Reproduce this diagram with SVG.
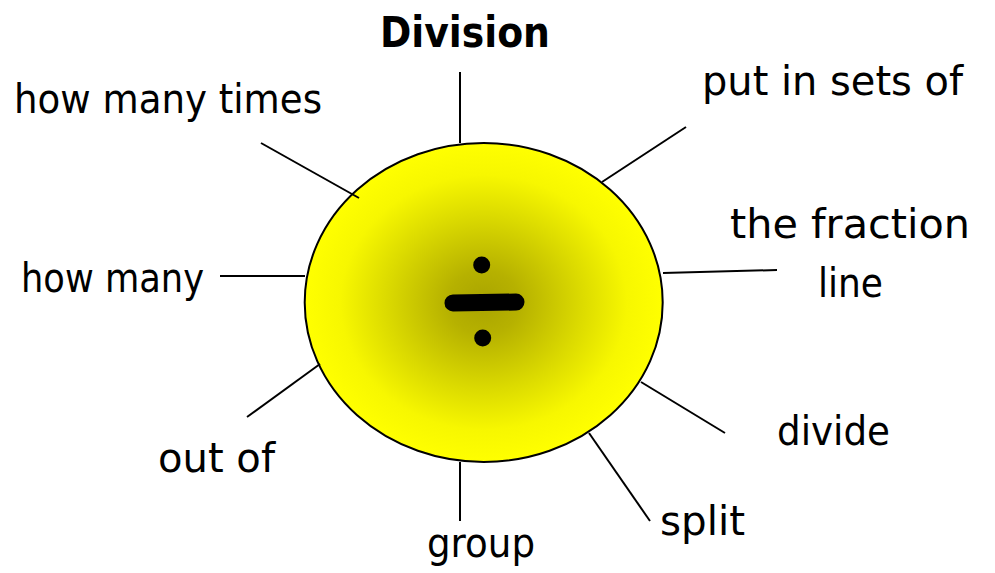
<svg xmlns="http://www.w3.org/2000/svg" width="995" height="573" viewBox="0 0 995 573">
<style>
.lbl{font-family:"DejaVu Sans","Liberation Sans",sans-serif;font-size:41px;fill:#000;}
.ttl{font-family:"DejaVu Sans","Liberation Sans",sans-serif;font-size:43px;font-weight:bold;fill:#000;}
.conn line{stroke:#000;stroke-width:2;}
</style>
<defs>
<radialGradient id="sun" cx="0.5" cy="0.5" r="0.5">
<stop offset="0" stop-color="#a9a400"/>
<stop offset="0.2" stop-color="#b6b100"/>
<stop offset="0.55" stop-color="#dcdb00"/>
<stop offset="0.8" stop-color="#f7f700"/>
<stop offset="1" stop-color="#ffff00"/>
</radialGradient>
</defs>
<rect width="995" height="573" fill="#fff"/>
<g id="center">
<ellipse cx="483.7" cy="302.5" rx="179" ry="159.5" fill="url(#sun)" stroke="#000" stroke-width="2"/>
<circle cx="481.7" cy="265" r="8.5" fill="#000"/>
<line x1="453" y1="303" x2="516" y2="302" stroke="#000" stroke-width="17" stroke-linecap="round"/>
<circle cx="482.7" cy="338" r="8.5" fill="#000"/>
</g>
<g id="connectors" class="conn">
<line x1="460" y1="72" x2="460" y2="143"/>
<line x1="261" y1="143" x2="359" y2="198"/>
<line x1="686" y1="127" x2="602" y2="182"/>
<line x1="663" y1="273" x2="777" y2="270"/>
<line x1="220" y1="276" x2="305" y2="276"/>
<line x1="247" y1="417" x2="320" y2="364"/>
<line x1="641" y1="382" x2="725" y2="433"/>
<line x1="589" y1="433" x2="650" y2="521"/>
<line x1="460" y1="462" x2="460" y2="521"/>
</g>
<g id="title"><text class="ttl" x="380" y="47" textLength="170" lengthAdjust="spacingAndGlyphs">Division</text></g>
<g id="n-how-many-times"><text class="lbl" x="14" y="113" textLength="308" lengthAdjust="spacingAndGlyphs">how many times</text></g>
<g id="n-put-in-sets-of"><text class="lbl" x="702" y="95" textLength="261" lengthAdjust="spacingAndGlyphs">put in sets of</text></g>
<g id="n-fraction-line"><text class="lbl" x="730" y="238" textLength="240" lengthAdjust="spacingAndGlyphs">the fraction</text><text class="lbl" x="818" y="297" textLength="65" lengthAdjust="spacingAndGlyphs">line</text></g>
<g id="n-how-many"><text class="lbl" x="21" y="292" textLength="183" lengthAdjust="spacingAndGlyphs">how many</text></g>
<g id="n-out-of"><text class="lbl" x="158" y="472" textLength="117" lengthAdjust="spacingAndGlyphs">out of</text></g>
<g id="n-divide"><text class="lbl" x="777" y="445" textLength="113" lengthAdjust="spacingAndGlyphs">divide</text></g>
<g id="n-split"><text class="lbl" x="660" y="535" textLength="85" lengthAdjust="spacingAndGlyphs">split</text></g>
<g id="n-group"><text class="lbl" x="427" y="557" textLength="108" lengthAdjust="spacingAndGlyphs">group</text></g>
</svg>
